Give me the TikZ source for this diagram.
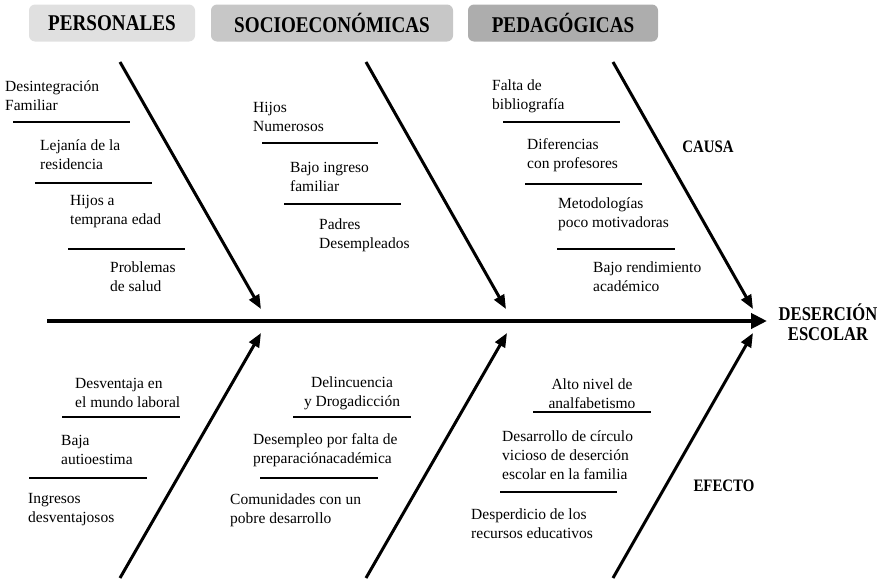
\documentclass[tikz,border=0pt]{standalone}
\usepackage{fontspec}
\setmainfont{Liberation Serif}
\newfontfamily\hdrfont[FakeStretch=0.85]{Liberation Serif}
\usetikzlibrary{arrows.meta}
\begin{document}
\begin{tikzpicture}[x=1pt,y=-1pt,
  hdr/.style={rounded corners=6pt, minimum height=37pt, inner sep=0pt, font=\hdrfont\fontsize{22.5}{24}\selectfont\bfseries},
  txt/.style={font=\fontsize{15.5}{19}\selectfont, align=left, inner sep=0pt, anchor=west},
  ctxt/.style={font=\fontsize{15.5}{19}\selectfont, align=center, inner sep=0pt},
  lbl/.style={font=\hdrfont\fontsize{19.5}{20}\selectfont\bfseries, inner sep=0pt, align=center},
  bone/.style={line width=3pt, -{Triangle[length=14pt,width=11pt]}},
  spine/.style={line width=4pt, -{Triangle[length=16pt,width=15pt]}},
  sub/.style={line width=1.6pt}]
\useasboundingbox (0,0) rectangle (883,581);

% headers
\node[hdr, fill=black!12, minimum width=166pt] (hP) at (112,23) {PERSONALES};
\node[hdr, fill=black!22, minimum width=242pt] (hS) at (332,23) {SOCIOECONÓMICAS};
\node[hdr, fill=black!32, minimum width=190pt] (hG) at (563,23) {PEDAGÓGICAS};

% spine
\coordinate (s0) at (47,321);
\coordinate (s1) at (767,321);
\draw[spine] (s0) -- (s1);
\node[lbl] (des) at (828,322) {DESERCIÓN\\ESCOLAR};

% bones
\coordinate (u1a) at (120,62);  \coordinate (u1b) at (261,309);
\coordinate (u2a) at (366,62);  \coordinate (u2b) at (506,309);
\coordinate (u3a) at (613,62);  \coordinate (u3b) at (753,309);
\coordinate (d1a) at (120,578); \coordinate (d1b) at (261,333);
\coordinate (d2a) at (366,578); \coordinate (d2b) at (507,333);
\coordinate (d3a) at (613,578); \coordinate (d3b) at (753,333);
\draw[bone] (u1a) -- (u1b);
\draw[bone] (u2a) -- (u2b);
\draw[bone] (u3a) -- (u3b);
\draw[bone] (d1a) -- (d1b);
\draw[bone] (d2a) -- (d2b);
\draw[bone] (d3a) -- (d3b);

\node[lbl, font=\hdrfont\fontsize{17.5}{20}\selectfont\bfseries] (causa) at (708,147) {CAUSA};
\node[lbl, font=\hdrfont\fontsize{17.5}{20}\selectfont\bfseries] (efecto) at (724,486) {EFECTO};

% personales (upper)
\node[txt] (p1) at (5,96) {Desintegración\\Familiar};
\node[txt] (p2) at (40,155) {Lejanía de la\\residencia};
\node[txt] (p3) at (70,212) {Hijos a\\temprana edad};
\node[txt] (p4) at (110,277) {Problemas\\de salud};
\coordinate (pl1a) at (13,122);  \coordinate (pl1b) at (130,122);
\coordinate (pl2a) at (35,183);  \coordinate (pl2b) at (152,183);
\coordinate (pl3a) at (68,249);  \coordinate (pl3b) at (185,249);
\draw[sub] (pl1a) -- (pl1b);
\draw[sub] (pl2a) -- (pl2b);
\draw[sub] (pl3a) -- (pl3b);

% socioeconomicas (upper)
\node[txt] (s1t) at (253,117) {Hijos\\Numerosos};
\node[txt] (s2t) at (290,177) {Bajo ingreso\\familiar};
\node[txt] (s3t) at (319,235) {Padres\\Desempleados};
\coordinate (sl1a) at (262,143); \coordinate (sl1b) at (378,143);
\coordinate (sl2a) at (284,204); \coordinate (sl2b) at (401,204);
\draw[sub] (sl1a) -- (sl1b);
\draw[sub] (sl2a) -- (sl2b);

% pedagogicas (upper)
\node[txt] (g1) at (492,96) {Falta de\\bibliografía};
\node[txt] (g2) at (527,155) {Diferencias\\con profesores};
\node[txt] (g3) at (558,214) {Metodologías\\poco motivadoras};
\node[txt] (g4) at (593,277) {Bajo rendimiento\\académico};
\coordinate (gl1a) at (503,122); \coordinate (gl1b) at (620,122);
\coordinate (gl2a) at (525,184); \coordinate (gl2b) at (642,184);
\coordinate (gl3a) at (557,249); \coordinate (gl3b) at (675,249);
\draw[sub] (gl1a) -- (gl1b);
\draw[sub] (gl2a) -- (gl2b);
\draw[sub] (gl3a) -- (gl3b);

% lower personales
\node[txt] (lp1) at (75,393) {Desventaja en\\el mundo laboral};
\node[txt] (lp2) at (61,450) {Baja\\autioestima};
\node[txt] (lp3) at (28,510) {Ingresos\\desventajosos};
\coordinate (lpl1a) at (62,417); \coordinate (lpl1b) at (180,417);
\coordinate (lpl2a) at (29,478); \coordinate (lpl2b) at (147,478);
\draw[sub] (lpl1a) -- (lpl1b);
\draw[sub] (lpl2a) -- (lpl2b);

% lower socio
\node[ctxt] (ls1) at (352,393) {Delincuencia\\y Drogadicción};
\node[txt] (ls2) at (253,450) {Desempleo por falta de\\preparaciónacadémica};
\node[txt] (ls3) at (230,510) {Comunidades con un\\pobre desarrollo};
\coordinate (lsl1a) at (293,417); \coordinate (lsl1b) at (411,417);
\coordinate (lsl2a) at (260,478); \coordinate (lsl2b) at (378,478);
\draw[sub] (lsl1a) -- (lsl1b);
\draw[sub] (lsl2a) -- (lsl2b);

% lower pedagogicas
\node[ctxt] (lg1) at (592,394) {Alto nivel de\\analfabetismo};
\node[txt] (lg2) at (502,455) {Desarrollo de círculo\\vicioso de deserción\\escolar en la familia};
\node[txt] (lg3) at (471,524) {Desperdicio de los\\recursos educativos};
\coordinate (lgl1a) at (533,412); \coordinate (lgl1b) at (651,412);
\coordinate (lgl2a) at (500,492); \coordinate (lgl2b) at (617,492);
\draw[sub] (lgl1a) -- (lgl1b);
\draw[sub] (lgl2a) -- (lgl2b);
\end{tikzpicture}
\end{document}
